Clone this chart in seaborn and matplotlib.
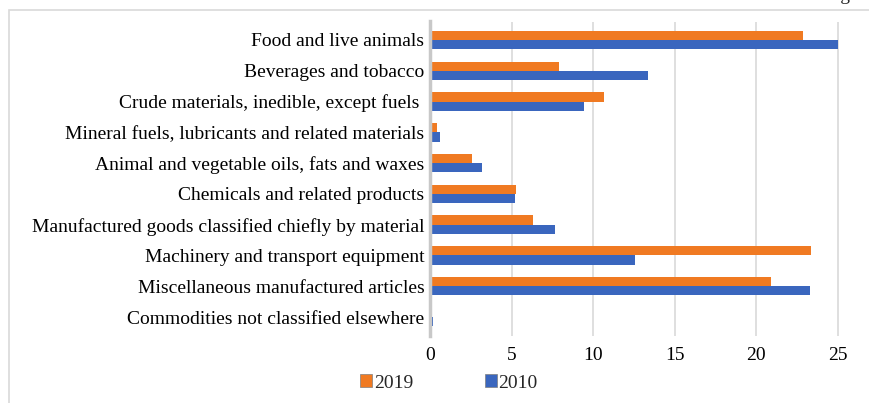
import matplotlib
matplotlib.use("Agg")
import matplotlib.pyplot as plt
import seaborn as sns
import pandas as pd
from matplotlib.patches import Rectangle, Patch

categories = [
    "Food and live animals",
    "Beverages and tobacco",
    "Crude materials, inedible, except fuels ",
    "Mineral fuels, lubricants and related materials",
    "Animal and vegetable oils, fats and waxes",
    "Chemicals and related products",
    "Manufactured goods classified chiefly by material",
    "Machinery and transport equipment",
    "Miscellaneous manufactured articles",
    "Commodities not classified elsewhere",
]
values_2019 = [22.9, 7.9, 10.7, 0.4, 2.6, 5.3, 6.3, 23.35, 20.9, 0.15]
values_2010 = [25.0, 13.4, 9.45, 0.6, 3.2, 5.2, 7.65, 12.55, 23.3, 0.2]
years = ["2019", "2010"]
xticks = [0, 5, 10, 15, 20, 25]

df = pd.DataFrame({
    "category": categories * 2,
    "value": values_2019 + values_2010,
    "year": ["2019"] * len(categories) + ["2010"] * len(categories),
})

sns.set_theme(style="white")
plt.rcParams["font.family"] = ["Liberation Serif", "DejaVu Serif"]

W, H = 869, 403
fig = plt.figure(figsize=(W / 100, H / 100), dpi=100)
ax = fig.add_axes([430 / W, 1 - 335.5 / H, (845.7 - 430) / W, (335.5 - 21.5) / H])

palette = {"2019": "#F07A22", "2010": "#3A66BE"}
sns.barplot(data=df, y="category", x="value", hue="year", hue_order=years,
            order=categories, orient="h", palette=palette, width=0.6,
            saturation=1, edgecolor="none", linewidth=0, ax=ax, legend=False)

ax.set_xlim(0, 25.5)
ax.set_ylim(len(categories) - 0.4, -0.6)
ax.set_xticks(xticks)
ax.set_xticklabels([str(t) for t in xticks])
ax.set_xlabel("")
ax.set_ylabel("")
ax.tick_params(axis="x", labelsize=14, length=0, pad=8, colors="#000000")
ax.tick_params(axis="y", labelsize=14, length=0, pad=4, colors="#000000")
ax.grid(axis="x", color="#d9d9d9", linewidth=1.2)
ax.set_axisbelow(True)
for s in ["top", "right", "bottom"]:
    ax.spines[s].set_visible(False)
ax.spines["left"].set_color("#c8c8c8")
ax.spines["left"].set_linewidth(2.5)

handles = [Patch(facecolor=palette[y], edgecolor="#7f7f7f", linewidth=0.5, label=y) for y in years]
fig.legend(handles=handles, loc="center", bbox_to_anchor=(449 / W, 1 - 383 / H),
           ncol=2, frameon=False, fontsize=14, handlelength=0.6, handleheight=0.6,
           handletextpad=0.1, columnspacing=3.7)

fig.patches.append(Rectangle((9 / W, -0.1), 1.2, 1 - 10 / H + 0.1, transform=fig.transFigure,
                             fill=False, edgecolor="#d9d9d9", linewidth=1.2))
fig.text(840 / W, 1 + 5 / H, "Fig.", ha="center", va="center", fontsize=14)

fig.savefig("out.png", dpi=100)
